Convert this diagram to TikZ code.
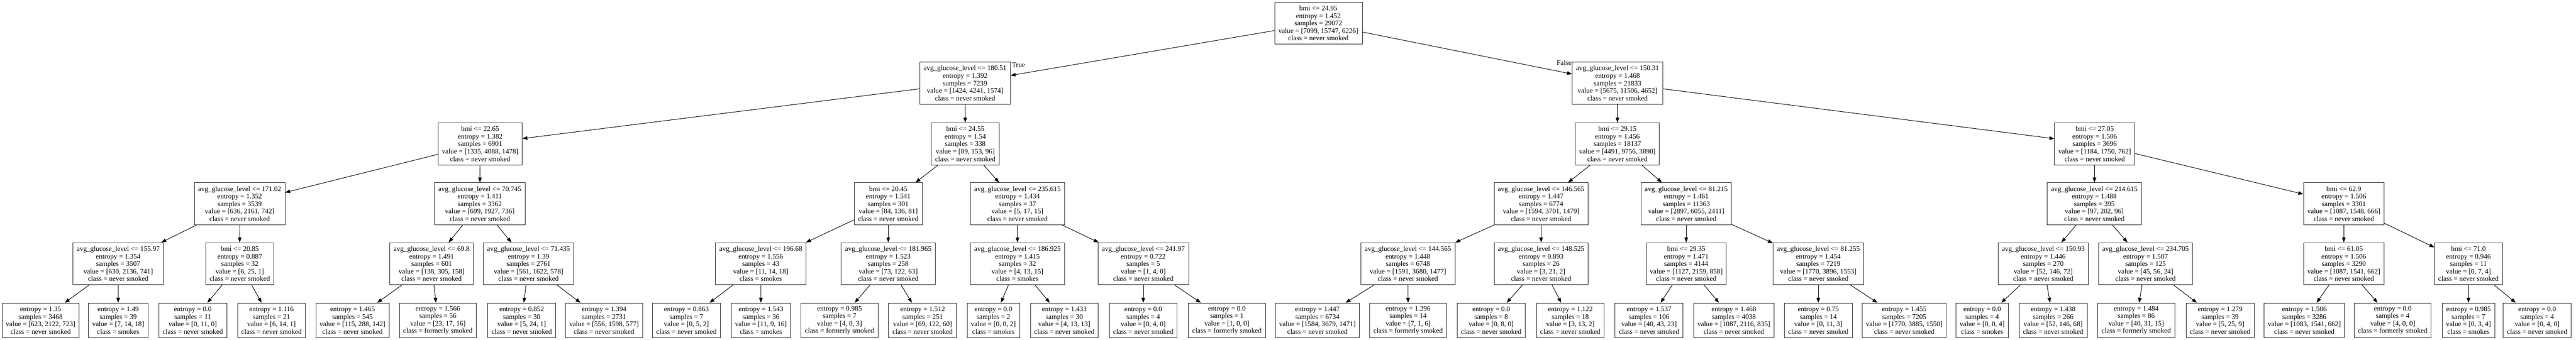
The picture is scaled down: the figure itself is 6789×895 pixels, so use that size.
\documentclass[tikz,border=0pt]{standalone}
\usepackage{fontspec}
\setmainfont{Liberation Serif}
\usetikzlibrary{arrows.meta}
\newcommand\itx[5]{#1\\entropy = #2\\samples = #3\\value = [#4]\\class = #5}
\newcommand\ltx[4]{entropy = #1\\samples = #2\\value = [#3]\\class = #4}
\newcommand\agl{avg\_glucose\_level <= }
\tikzset{
  tbox/.style={draw=black!85, line width=1.2pt, fill=white, align=center, anchor=north,
    inner xsep=10pt, inner ysep=0pt, minimum height=111pt,
    font=\fontsize{18.5}{19.8}\selectfont},
  lbox/.style={tbox, minimum height=92pt},
  edge/.style={draw=black, line width=1.3pt, -{Triangle[length=13pt,width=9.5pt]}},
  elab/.style={font=\fontsize{18.5}{19.8}\selectfont, inner sep=0pt}
}
\begin{document}
\begin{tikzpicture}[x=1pt,y=-1pt]
\useasboundingbox[fill=white] (0,0) rectangle (6789,895);
% level 0
\node[tbox] (root) at (3474.5,5) {\itx{bmi <= 24.95}{1.452}{29072}{7099, 15747, 6226}{never smoked}};
% level 1
\node[tbox] (a18051) at (2543.5,163) {\itx{\agl 180.51}{1.392}{7239}{1424, 4241, 1574}{never smoked}};
\node[tbox] (a15031) at (4263,163) {\itx{\agl 150.31}{1.468}{21833}{5675, 11506, 4652}{never smoked}};
% level 2
\node[tbox] (b2265) at (1265.5,323) {\itx{bmi <= 22.65}{1.382}{6901}{1335, 4088, 1478}{never smoked}};
\node[tbox] (b2455) at (2544,323) {\itx{bmi <= 24.55}{1.54}{338}{89, 153, 96}{never smoked}};
\node[tbox] (b2915) at (4262.5,323) {\itx{bmi <= 29.15}{1.456}{18137}{4491, 9756, 3890}{never smoked}};
\node[tbox] (b2705) at (5520.5,323) {\itx{bmi <= 27.05}{1.506}{3696}{1184, 1750, 762}{never smoked}};
% level 3
\node[tbox] (a17102) at (631.5,481) {\itx{\agl 171.02}{1.352}{3539}{636, 2161, 742}{never smoked}};
\node[tbox] (a70745) at (1264.5,481) {\itx{\agl 70.745}{1.411}{3362}{699, 1927, 736}{never smoked}};
\node[tbox] (b2045) at (2341,481) {\itx{bmi <= 20.45}{1.541}{301}{84, 136, 81}{never smoked}};
\node[tbox] (a235615) at (2681.5,481) {\itx{\agl 235.615}{1.434}{37}{5, 17, 15}{never smoked}};
\node[tbox] (a146565) at (4061.5,481) {\itx{\agl 146.565}{1.447}{6774}{1594, 3701, 1479}{never smoked}};
\node[tbox] (a81215) at (4444,481) {\itx{\agl 81.215}{1.461}{11363}{2897, 6055, 2411}{never smoked}};
\node[tbox] (a214615) at (5519.5,481) {\itx{\agl 214.615}{1.488}{395}{97, 202, 96}{never smoked}};
\node[tbox] (b629) at (6177,481) {\itx{bmi <= 62.9}{1.506}{3301}{1087, 1548, 666}{never smoked}};
% level 4
\node[tbox] (a15597) at (311.5,639) {\itx{\agl 155.97}{1.354}{3507}{630, 2136, 741}{never smoked}};
\node[tbox] (b2085) at (632,639) {\itx{bmi <= 20.85}{0.887}{32}{6, 25, 1}{never smoked}};
\node[tbox] (a698) at (1137.5,639) {\itx{\agl 69.8}{1.491}{601}{138, 305, 158}{never smoked}};
\node[tbox] (a71435) at (1393,639) {\itx{\agl 71.435}{1.39}{2761}{561, 1622, 578}{never smoked}};
\node[tbox] (a19668) at (2005,639) {\itx{\agl 196.68}{1.556}{43}{11, 14, 18}{smokes}};
\node[tbox] (a181965) at (2341,639) {\itx{\agl 181.965}{1.523}{258}{73, 122, 63}{never smoked}};
\node[tbox] (a186925) at (2681.5,639) {\itx{\agl 186.925}{1.415}{32}{4, 13, 15}{smokes}};
\node[tbox] (a24197) at (3013,639) {\itx{\agl 241.97}{0.722}{5}{1, 4, 0}{never smoked}};
\node[tbox] (a144565) at (3710.5,639) {\itx{\agl 144.565}{1.448}{6748}{1591, 3680, 1477}{never smoked}};
\node[tbox] (a148525) at (4061.5,639) {\itx{\agl 148.525}{0.893}{26}{3, 21, 2}{never smoked}};
\node[tbox] (b2935) at (4444,639) {\itx{bmi <= 29.35}{1.471}{4144}{1127, 2159, 858}{never smoked}};
\node[tbox] (a81255) at (4792,639) {\itx{\agl 81.255}{1.454}{7219}{1770, 3896, 1553}{never smoked}};
\node[tbox] (a15093) at (5385,639) {\itx{\agl 150.93}{1.446}{270}{52, 146, 72}{never smoked}};
\node[tbox] (a234705) at (5654.5,639) {\itx{\agl 234.705}{1.507}{125}{45, 56, 24}{never smoked}};
\node[tbox] (b6105) at (6177,639) {\itx{bmi <= 61.05}{1.506}{3290}{1087, 1541, 662}{never smoked}};
\node[tbox] (b710) at (6505.5,639) {\itx{bmi <= 71.0}{0.946}{11}{0, 7, 4}{never smoked}};
% level 5 leaves
\node[lbox] (l1) at (107,798) {\ltx{1.35}{3468}{623, 2122, 723}{never smoked}};
\node[lbox] (l2) at (311.5,798) {\ltx{1.49}{39}{7, 14, 18}{smokes}};
\node[lbox] (l3) at (508,798) {\ltx{0.0}{11}{0, 11, 0}{never smoked}};
\node[lbox] (l4) at (715.5,798) {\ltx{1.116}{21}{6, 14, 1}{never smoked}};
\node[lbox] (l5) at (929,798) {\ltx{1.465}{545}{115, 288, 142}{never smoked}};
\node[lbox] (l6) at (1154,798) {\ltx{1.566}{56}{23, 17, 16}{formerly smoked}};
\node[lbox] (l7) at (1375,798) {\ltx{0.852}{30}{5, 24, 1}{never smoked}};
\node[lbox] (l8) at (1592,798) {\ltx{1.394}{2731}{556, 1598, 577}{never smoked}};
\node[lbox] (l9) at (1809,798) {\ltx{0.863}{7}{0, 5, 2}{never smoked}};
\node[lbox] (l10) at (2005.5,798) {\ltx{1.543}{36}{11, 9, 16}{smokes}};
\node[lbox] (l11) at (2212.5,798) {\ltx{0.985}{7}{4, 0, 3}{formerly smoked}};
\node[lbox] (l12) at (2431.5,798) {\ltx{1.512}{251}{69, 122, 60}{never smoked}};
\node[lbox] (l13) at (2618,798) {\ltx{0.0}{2}{0, 0, 2}{smokes}};
\node[lbox] (l14) at (2805,798) {\ltx{1.433}{30}{4, 13, 13}{never smoked}};
\node[lbox] (l15) at (3013,798) {\ltx{0.0}{4}{0, 4, 0}{never smoked}};
\node[lbox] (l16) at (3233.5,798) {\ltx{0.0}{1}{1, 0, 0}{formerly smoked}};
\node[lbox] (l17) at (3472,798) {\ltx{1.447}{6734}{1584, 3679, 1471}{never smoked}};
\node[lbox] (l18) at (3711,798) {\ltx{1.296}{14}{7, 1, 6}{formerly smoked}};
\node[lbox] (l19) at (3930,798) {\ltx{0.0}{8}{0, 8, 0}{never smoked}};
\node[lbox] (l20) at (4138.5,798) {\ltx{1.122}{18}{3, 13, 2}{never smoked}};
\node[lbox] (l21) at (4346,798) {\ltx{1.537}{106}{40, 43, 23}{never smoked}};
\node[lbox] (l22) at (4569.5,798) {\ltx{1.468}{4038}{1087, 2116, 835}{never smoked}};
\node[lbox] (l23) at (4792,798) {\ltx{0.75}{14}{0, 11, 3}{never smoked}};
\node[lbox] (l24) at (5018.5,798) {\ltx{1.455}{7205}{1770, 3885, 1550}{never smoked}};
\node[lbox] (l25) at (5224,798) {\ltx{0.0}{4}{0, 0, 4}{smokes}};
\node[lbox] (l26) at (5411,798) {\ltx{1.438}{266}{52, 146, 68}{never smoked}};
\node[lbox] (l27) at (5630,798) {\ltx{1.484}{86}{40, 31, 15}{formerly smoked}};
\node[lbox] (l28) at (5851,798) {\ltx{1.279}{39}{5, 25, 9}{never smoked}};
\node[lbox] (l29) at (6073,798) {\ltx{1.506}{3286}{1083, 1541, 662}{never smoked}};
\node[lbox] (l30) at (6306,798) {\ltx{0.0}{4}{4, 0, 0}{formerly smoked}};
\node[lbox] (l31) at (6505.5,798) {\ltx{0.985}{7}{0, 3, 4}{smokes}};
\node[lbox] (l32) at (6686.5,798) {\ltx{0.0}{4}{0, 4, 0}{never smoked}};
% edges
\foreach \p/\c in {root/a18051, root/a15031,
  a18051/b2265, a18051/b2455, a15031/b2915, a15031/b2705,
  b2265/a17102, b2265/a70745, b2455/b2045, b2455/a235615,
  b2915/a146565, b2915/a81215, b2705/a214615, b2705/b629,
  a17102/a15597, a17102/b2085, a70745/a698, a70745/a71435,
  b2045/a19668, b2045/a181965, a235615/a186925, a235615/a24197,
  a146565/a144565, a146565/a148525, a81215/b2935, a81215/a81255,
  a214615/a15093, a214615/a234705, b629/b6105, b629/b710,
  a15597/l1, a15597/l2, b2085/l3, b2085/l4, a698/l5, a698/l6,
  a71435/l7, a71435/l8, a19668/l9, a19668/l10, a181965/l11, a181965/l12,
  a186925/l13, a186925/l14, a24197/l15, a24197/l16, a144565/l17, a144565/l18,
  a148525/l19, a148525/l20, b2935/l21, b2935/l22, a81255/l23, a81255/l24,
  a15093/l25, a15093/l26, a234705/l27, a234705/l28, b6105/l29, b6105/l30,
  b710/l31, b710/l32}
  \draw[edge] (\p) -- (\c);
\node[elab, anchor=base west] (ltrue) at (2667,177) {True};
\node[elab, anchor=base east] (lfalse) at (4142,172) {False};
\end{tikzpicture}
\end{document}
